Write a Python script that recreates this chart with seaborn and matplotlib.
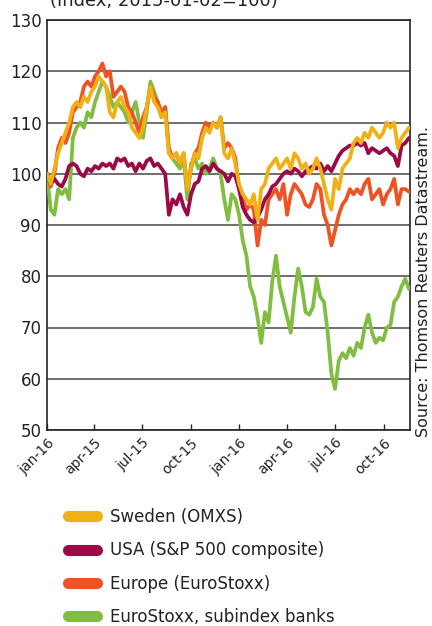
import numpy as np
import pandas as pd
import matplotlib.pyplot as plt
import seaborn as sns
from matplotlib.lines import Line2D
from matplotlib.transforms import ScaledTranslation

# weekly readings, Friday closes, index 2015-01-02 = 100
DATES = pd.date_range("2015-01-02", periods=99, freq="7D")

SWEDEN = [100, 98, 101, 104, 106, 108, 110, 113, 114, 113,
          115, 114, 116, 117, 119, 118, 117, 112, 111, 114,
          115, 113, 112, 109, 108, 107, 109, 113, 117, 114,
          113, 111, 112, 104, 103, 104, 102, 104, 97, 101,
          104, 103, 107, 109, 108, 110, 109, 111, 104, 103,
          105, 102, 98, 96, 95, 94, 96, 91, 97, 98,
          101, 102, 103, 101, 102, 103, 101, 104, 103, 101,
          102, 100, 101, 103, 101, 98, 95, 93, 99, 97,
          101, 102, 103, 106, 107, 106, 108, 107, 109, 108,
          107, 108, 110, 109, 110, 105, 107, 108, 109]

USA = [100, 98, 99, 98, 97.5, 99, 101.5, 102, 101.5, 100,
       99.5, 101, 100.5, 101.5, 101, 102, 101.5, 102, 101, 103,
       102.5, 103, 101.5, 102, 100.5, 102, 101, 102.5, 103, 101.5,
       102, 101, 100, 92, 95, 94, 96, 93.5, 92, 96,
       98, 98.5, 101, 101.5, 100.5, 102, 101, 100.5, 100, 98.5,
       100, 99.5, 97, 93.5, 92, 91, 90.5, 91.5, 93, 95,
       96, 97.5, 98, 99, 100, 100.5, 100, 101, 100.5, 99.5,
       100.5, 101, 101.5, 101, 102, 100.5, 101.5, 100.5, 102, 103.5,
       104.5, 105, 105.5, 105.5, 106, 105.5, 106, 104, 105, 104.5,
       104, 104.5, 105, 104, 103.5, 101.5, 105.5, 106, 107]

EUROPE = [100, 97.5, 100, 105, 107, 106, 108, 112, 113, 114,
          117, 118, 117, 119, 120, 121.5, 119, 120, 115, 116,
          117, 116, 113, 112, 110, 108, 111, 113, 117, 115,
          114, 112, 113, 105, 103, 104, 102, 104, 97, 101,
          104, 105, 108, 110, 109, 110, 109, 111, 105, 106,
          105, 103, 97, 95, 93, 94, 93, 86, 91, 90,
          95, 96, 97, 95, 98, 92, 96, 98, 97, 96,
          94, 93.5, 95, 98, 97, 92, 90, 86, 89, 92,
          94, 95, 97, 96, 97, 96, 98, 99, 95, 96,
          97, 94, 96, 97, 99, 94, 97, 97, 96.5]

BANKS = [100, 93, 92, 97, 96, 97, 95, 107, 109, 110,
         109, 112, 111, 114, 116, 118, 117, 115, 113, 114,
         113, 112, 110, 112, 114, 110, 107, 112, 118, 116,
         114, 111, 113, 104, 103, 102, 101, 103, 95, 102,
         103, 101, 102, 100, 101, 103, 101, 100, 95, 91,
         96, 95, 92, 87, 84, 78, 76, 72, 67, 73,
         71, 79, 84, 78, 75, 72, 69, 76, 81.5, 78,
         73, 72.5, 74, 79.5, 76, 75, 69, 61, 58, 63.5,
         65, 64, 66, 64.5, 67, 66, 70, 72.5, 69, 67,
         68, 67.5, 70, 70.5, 75, 76, 78, 79.5, 77.5]

LABELS = ["Sweden (OMXS)", "USA (S&P 500 composite)", "Europe (EuroStoxx)",
          "EuroStoxx, subindex banks"]
COLORS = ["#F0B117", "#9C0A45", "#EF5223", "#80BD41"]

TICK_DATES = pd.to_datetime(["2015-01-02", "2015-04-01", "2015-07-01", "2015-10-01",
                             "2016-01-01", "2016-04-01", "2016-07-01", "2016-10-01"])
TICK_LABELS = ["jan-16", "apr-15", "jul-15", "oct-15", "jan-16", "apr-16", "jul-16", "oct-16"]

df = pd.DataFrame({"date": DATES, LABELS[0]: SWEDEN, LABELS[1]: USA,
                   LABELS[2]: EUROPE, LABELS[3]: BANKS})
long = df.melt(id_vars="date", var_name="series", value_name="index")

sns.set_style("white")
plt.rcParams["font.family"] = ["DejaVu Sans"]

fig = plt.figure(figsize=(4.32, 6.26), dpi=100)
ax = fig.add_axes([47 / 432, 1 - 430 / 626, (410 - 47) / 432, 410 / 626])

# banks drawn first, Sweden on top
draw_order = [LABELS[3], LABELS[2], LABELS[1], LABELS[0]]
pal = dict(zip(LABELS, COLORS))
sns.lineplot(data=long, x="date", y="index", hue="series", hue_order=draw_order,
             palette=pal, linewidth=2.7, legend=False, ax=ax, zorder=3)

ax.set_ylim(50, 130)
ax.set_yticks(range(50, 131, 10))
ax.set_xlim(pd.Timestamp("2015-01-02"), pd.Timestamp("2016-11-20"))
ax.set_xticks(TICK_DATES)
ax.set_xticklabels(TICK_LABELS, rotation=45, ha="right", rotation_mode="anchor")
shift = ScaledTranslation(4 / 100, -3 / 100, fig.dpi_scale_trans)
for lab in ax.get_xticklabels():
    lab.set_transform(lab.get_transform() + shift)
ax.set_xlabel("")
ax.set_ylabel("")
ax.grid(axis="y", color="#555555", linewidth=1.2)
ax.grid(axis="x", visible=False)
for s in ax.spines.values():
    s.set_color("#222222")
    s.set_linewidth(1.2)
ax.tick_params(axis="y", labelsize=12, length=0, pad=4, colors="#222222")
ax.tick_params(axis="x", labelsize=10, direction="in", length=4, width=1,
               pad=4, colors="#222222", bottom=True)

fig.text(50 / 432, 1 - 6 / 626, "(Index, 2015-01-02=100)", fontsize=13,
         va="baseline", ha="left", color="#222222")
fig.text(423 / 432, 1 - 437 / 626, "Source: Thomson Reuters Datastream.",
         rotation=90, fontsize=11.5, ha="center", va="bottom", color="#222222")

handles = [Line2D([0], [0], color=c, linewidth=8, solid_capstyle="round") for c in COLORS]
fig.legend(handles, LABELS, loc="upper left", bbox_to_anchor=(68 / 432, 1 - 508 / 626),
           frameon=False, fontsize=12, borderpad=0, borderaxespad=0,
           handlelength=1.75, handletextpad=0.8, labelspacing=0.92,
           labelcolor="#222222")

fig.savefig("out.png", dpi=100)
